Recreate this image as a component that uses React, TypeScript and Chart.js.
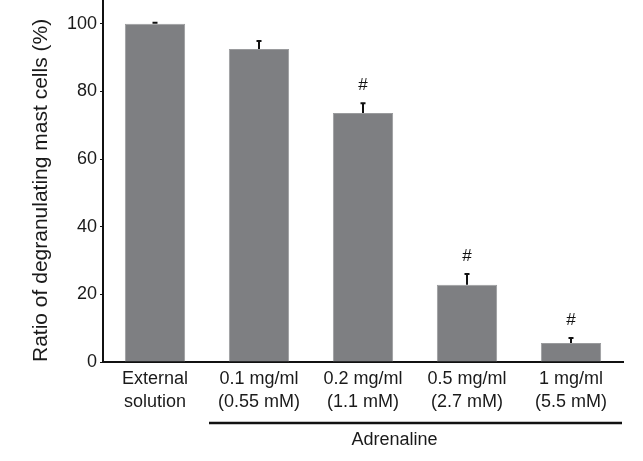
import { useEffect, useRef } from 'react';
import { Chart, registerables } from 'chart.js';

Chart.register(...registerables);

// dados
const categorias = [
    ['External', 'solution'],
    ['0.1 mg/ml', '(0.55 mM)'],
    ['0.2 mg/ml', '(1.1 mM)'],
    ['0.5 mg/ml', '(2.7 mM)'],
    ['1 mg/ml', '(5.5 mM)'],
];
const valores = [100, 92.5, 73.6, 22.8, 5.6];
const erros = [0.3, 2.4, 2.9, 3.2, 1.5];
const marcas = ['', '', '#', '#', '#'];
const grupo = 'Adrenaline';
const tituloY = 'Ratio of degranulating mast cells (%)';
const ticksY = [0, 20, 40, 60, 80, 100];

const FONTE = 'Arial, "Liberation Sans", Helvetica, sans-serif';

const extrasPlugin = {
    id: 'extras',
    afterDatasetsDraw(chart: any) {
        const { ctx } = chart;
        const x = chart.scales.x;
        const y = chart.scales.y;
        ctx.save();
        ctx.strokeStyle = '#111';
        ctx.fillStyle = '#111';
        ctx.lineWidth = 2;
        valores.forEach((v, i) => {
            const px = x.getPixelForValue(i);
            const yTop = y.getPixelForValue(v);
            const yTip = y.getPixelForValue(v + erros[i]);
            ctx.beginPath();
            ctx.moveTo(px, yTop);
            ctx.lineTo(px, yTip);
            ctx.moveTo(px - 2.5, yTip);
            ctx.lineTo(px + 2.5, yTip);
            ctx.stroke();
            if (marcas[i]) {
                ctx.font = `17px ${FONTE}`;
                ctx.textAlign = 'center';
                ctx.textBaseline = 'middle';
                ctx.fillText(marcas[i], px, yTip - 18);
            }
        });
        ctx.restore();
    },
    afterDraw(chart: any) {
        const { ctx, chartArea } = chart;
        const x = chart.scales.x;
        const x1 = (x.getPixelForValue(0) + x.getPixelForValue(1)) / 2 + 2;
        const x2 = chartArea.right - 1;
        const yb = chartArea.bottom + 61;
        ctx.save();
        ctx.strokeStyle = '#111';
        ctx.lineWidth = 2.5;
        ctx.beginPath();
        ctx.moveTo(x1, yb);
        ctx.lineTo(x2, yb);
        ctx.stroke();
        ctx.fillStyle = '#1a1a1a';
        ctx.font = `18px ${FONTE}`;
        ctx.textAlign = 'center';
        ctx.textBaseline = 'middle';
        ctx.fillText(grupo, (x1 + x2) / 2 - 21, yb + 17);
        ctx.restore();
    },
};

export default function GraficoMastocitos() {
    const canvasRef = useRef<HTMLCanvasElement>(null);

    useEffect(() => {
        if (!canvasRef.current) return;
        const grafico = new Chart(canvasRef.current, {
            type: 'bar',
            data: {
                labels: categorias as any,
                datasets: [{
                    data: valores,
                    backgroundColor: '#7e7f82',
                    borderColor: '#9a9b9d',
                    borderWidth: 1,
                    barPercentage: 0.58,
                    categoryPercentage: 1,
                }],
            },
            options: {
                animation: false,
                responsive: true,
                maintainAspectRatio: false,
                layout: { padding: { top: 0, right: 20, bottom: 0, left: 0 } },
                plugins: { legend: { display: false }, tooltip: { enabled: false } },
                scales: {
                    x: {
                        grid: { display: false, drawTicks: false },
                        border: { display: true, color: '#111', width: 2 },
                        ticks: { color: '#1a1a1a', font: { family: FONTE, size: 18, lineHeight: 1.25 }, padding: 6, maxRotation: 0, autoSkip: false },
                        afterFit: (s: any) => { s.height = 99; },
                    },
                    y: {
                        min: 0,
                        max: 107,
                        grid: { drawOnChartArea: false, drawTicks: true, tickLength: 3, color: '#111' },
                        border: { display: true, color: '#111', width: 2 },
                        ticks: { stepSize: 20, color: '#1a1a1a', font: { family: FONTE, size: 18 }, padding: 3 },
                        afterBuildTicks: (s: any) => { s.ticks = ticksY.map((v) => ({ value: v })); },
                        afterFit: (s: any) => { s.width = 103; s.paddingTop = 0; s.paddingBottom = 0; },
                        title: {
                            display: true,
                            text: tituloY,
                            align: 'start',
                            color: '#1a1a1a',
                            font: { family: FONTE, size: 21 },
                            padding: { top: 29, bottom: 0 },
                        },
                    },
                },
            },
            plugins: [extrasPlugin],
        });
        return () => grafico.destroy();
    }, []);

    return (
        <div style={{ position: 'fixed', left: 0, top: 0, width: '643px', height: '461px', background: '#fff' }}>
            <canvas ref={canvasRef}></canvas>
        </div>
    );
}
